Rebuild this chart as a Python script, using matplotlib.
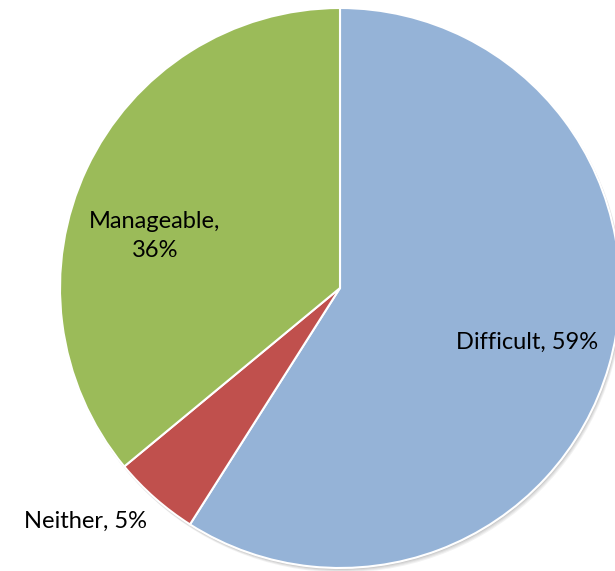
import matplotlib.pyplot as plt
from matplotlib.patches import Circle

categories = ["Difficult", "Neither", "Manageable"]
shares = [59, 5, 36]
colors = ["#95B3D7", "#C0504D", "#9BBB59"]

plt.rcParams['font.family'] = ['Lato', 'DejaVu Sans']

fig = plt.figure(figsize=(6.15, 5.71), dpi=100)
ax = fig.add_axes([0, 0, 1, 1])

cx, cy, r = 340, 283, 280

# soft drop shadow under the pie
for i, a in enumerate([0.05, 0.05, 0.06, 0.08]):
    off = 4 - i
    ax.add_patch(Circle((cx + off * 0.6, cy - off), r + 0.5, color='black', alpha=a,
                        lw=0, zorder=0))

ax.pie(shares, colors=colors, startangle=90, counterclock=False,
       center=(cx, cy), radius=r, frame=True,
       wedgeprops=dict(edgecolor='white', linewidth=1.5))
ax.set_xlim(0, 615)
ax.set_ylim(0, 571)
ax.set_aspect('equal')
ax.axis('off')

labels = [f"{c}, {s}%" for c, s in zip(categories, shares)]
ax.text(527, 229, labels[0], ha='center', va='center', fontsize=17)
ax.text(86, 50, labels[1], ha='center', va='center', fontsize=17)
ax.text(155, 335, labels[2].replace(", ", ",\n"), ha='center', va='center',
        fontsize=17, linespacing=1.5)

fig.savefig("out.png", dpi=100)
